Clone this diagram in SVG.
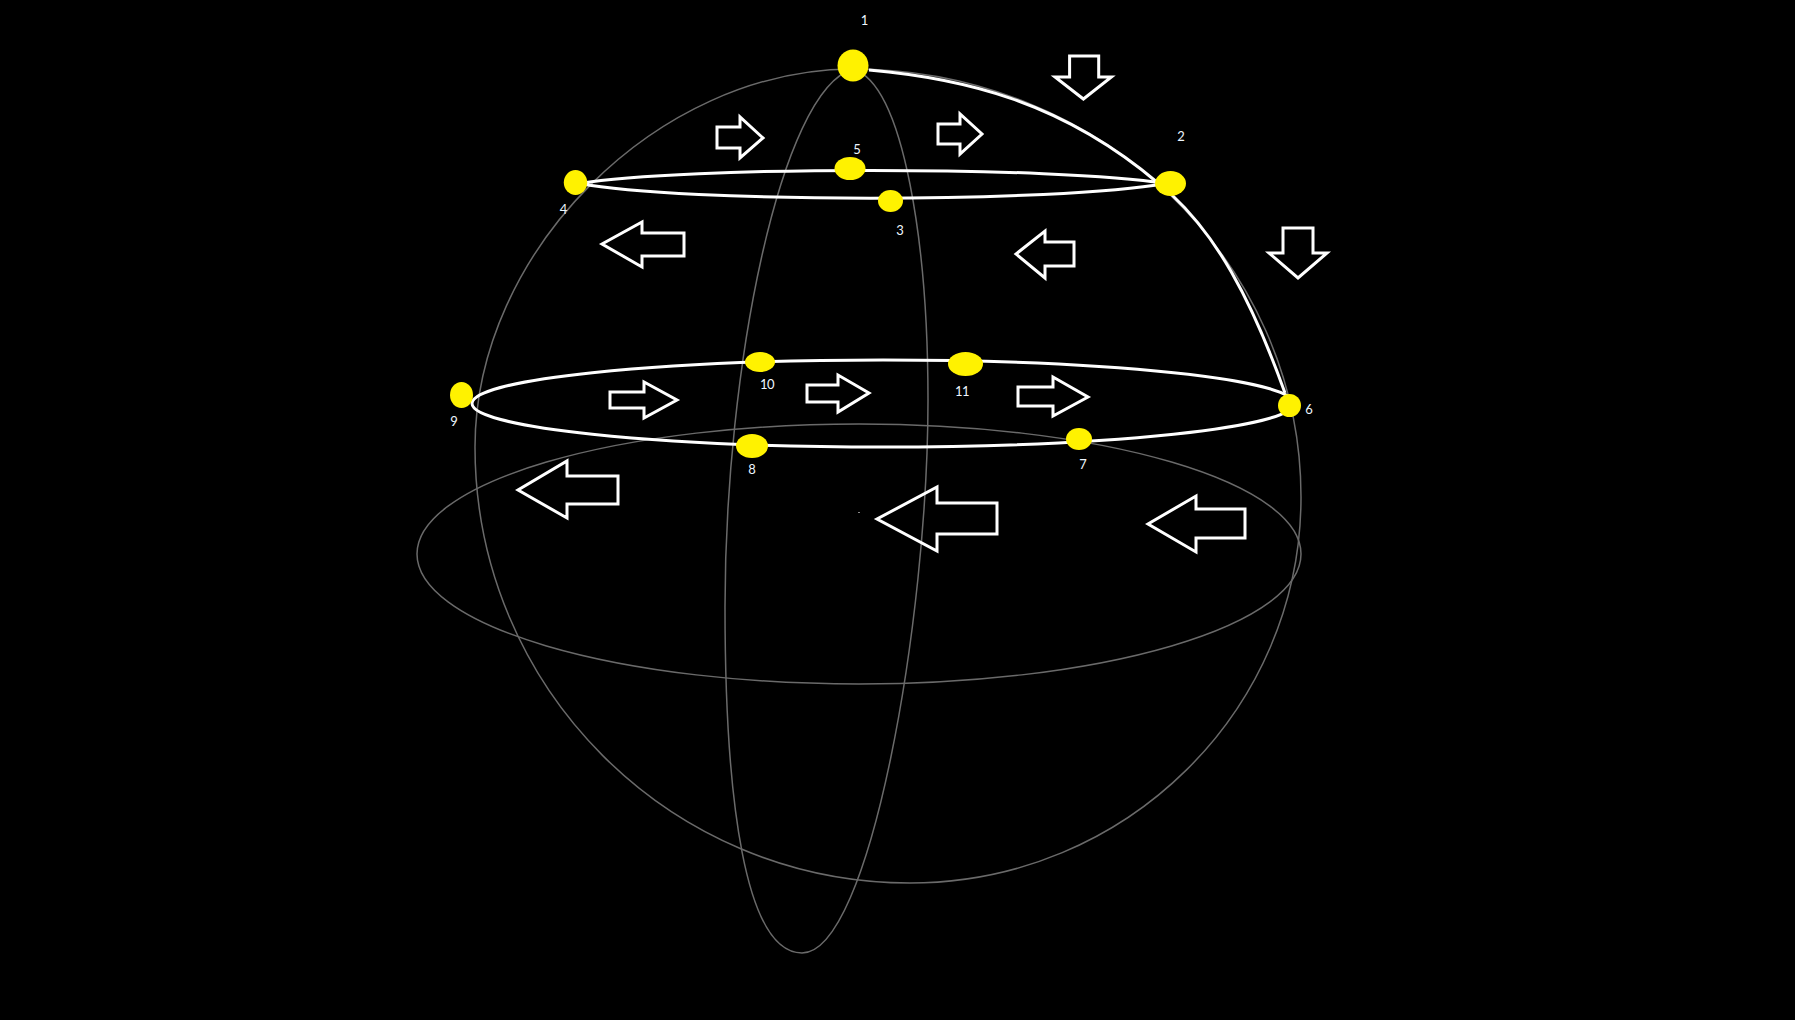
<svg xmlns="http://www.w3.org/2000/svg" width="1795" height="1020" viewBox="0 0 1795 1020">
<style>
.g{fill:none;stroke:#6a6a6a;stroke-width:1.5}
.w{fill:none;stroke:#fff;stroke-width:3}
.a{fill:none;stroke:#fff;stroke-width:3;stroke-linejoin:miter}
.n{fill:#fff200}
.t{font-family:Lato,"Liberation Sans",sans-serif;font-size:13px;fill:#eef6ff;text-anchor:middle}
</style>
<rect width="1795" height="1020" fill="#000"/>
<g id="connectors">
<path id="sphere" class="g" d="M853,69 C657,69 475,252 475,447 C475,688 670,883 910,883 C1126,883 1301,710 1301,497 C1301,261 1100,69 853,69 Z"/>
<path id="meridian" class="g" d="M853,69 C780,90 725,370 725,607 C725,800 745,953 802,953 C870,953 928,620 928,400 C928,250 905,85 853,69 Z"/>
<ellipse id="equator" class="g" cx="859" cy="554" rx="442" ry="130"/>
<path id="lat-upper" class="w" d="M580,183.5 C680,166 1060,166 1165,183.5 C1060,203 680,203 580,183.5 Z"/>
<ellipse id="lat-middle" class="w" cx="883" cy="403.5" rx="411" ry="43.5"/>
<path id="arc-1-2" class="w" d="M869,70 C960,78 1060,100 1158,183"/>
<path id="arc-2-6" class="w" d="M1172,195 C1215,235 1250,295 1285,393"/>
<rect x="858" y="512" width="2" height="1" fill="#888"/>
</g>
<g id="arrows">
<polygon class="a" points="1069.6,56 1098.7,56 1098.7,77 1111.4,77 1083.4,99 1055,77 1069.6,77"/>
<polygon class="a" points="717,127 740,127 740,117 763,138 740,158 740,148 717,148"/>
<polygon class="a" points="938,124 960,124 960,114 982,134 960,154 960,144 938,144"/>
<polygon class="a" points="684,233 642,233 642,222 602,244 642,267 642,256 684,256"/>
<polygon class="a" points="1074,242 1045,242 1045,231 1016,254 1045,278 1045,266 1074,266"/>
<polygon class="a" points="1283,228 1313,228 1313,253 1327,253 1298,278 1269,253 1283,253"/>
<polygon class="a" points="610,392 644,392 644,382 677,400 644,418 644,408 610,408"/>
<polygon class="a" points="807,385 838,385 838,375 869,393 838,412 838,402 807,402"/>
<polygon class="a" points="1018,387 1053,387 1053,377 1088,397 1053,416 1053,406 1018,406"/>
<polygon class="a" points="618,476 567,476 567,461 518,490 567,518 567,504 618,504"/>
<polygon class="a" points="997,503 937,503 937,487 877,519 937,551 937,534 997,534"/>
<polygon class="a" points="1245,509 1196,509 1196,496 1148,524 1196,552 1196,538 1245,538"/>
</g>
<g id="node-1"><ellipse class="n" cx="853" cy="65.5" rx="15.5" ry="16"/><text class="t" x="864.5" y="24.5">1</text></g>
<g id="node-2"><ellipse class="n" cx="1170.5" cy="183.5" rx="15.5" ry="12.5"/><text class="t" x="1181" y="140.5">2</text></g>
<g id="node-3"><ellipse class="n" cx="890.5" cy="201" rx="12.5" ry="11"/><text class="t" x="900" y="234.5">3</text></g>
<g id="node-4"><ellipse class="n" cx="575.5" cy="182.5" rx="11.7" ry="12.5"/><text class="t" x="563.5" y="213.5">4</text></g>
<g id="node-5"><ellipse class="n" cx="850" cy="168.5" rx="15.5" ry="11.5"/><text class="t" x="857" y="153.5">5</text></g>
<g id="node-6"><ellipse class="n" cx="1289.5" cy="405.5" rx="11.5" ry="11.5"/><text class="t" x="1309" y="414">6</text></g>
<g id="node-7"><ellipse class="n" cx="1079" cy="439" rx="13" ry="11"/><text class="t" x="1083" y="468.5">7</text></g>
<g id="node-8"><ellipse class="n" cx="752" cy="446" rx="16" ry="12"/><text class="t" x="752" y="473.5">8</text></g>
<g id="node-9"><ellipse class="n" cx="461.5" cy="395" rx="11.5" ry="13"/><text class="t" x="454" y="425.5">9</text></g>
<g id="node-10"><ellipse class="n" cx="760" cy="362" rx="15" ry="10"/><text class="t" x="767" y="389" letter-spacing="-0.5">10</text></g>
<g id="node-11"><ellipse class="n" cx="965.5" cy="364" rx="17.5" ry="12"/><text class="t" x="962" y="395.5" letter-spacing="-0.5">11</text></g>
</svg>
